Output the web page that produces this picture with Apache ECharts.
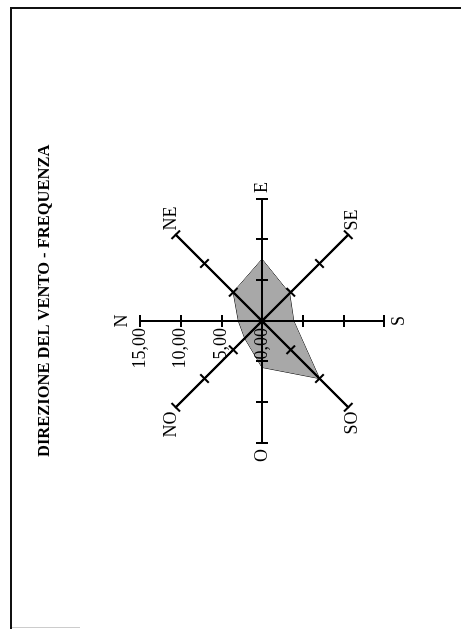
<!DOCTYPE html>
<html>
<head>
<meta charset="utf-8">
<script src="https://cdn.jsdelivr.net/npm/echarts@6/dist/echarts.min.js"></script>
<style>
  html, body { margin: 0; padding: 0; background: #fff; width: 461px; height: 629px; overflow: hidden; }
  #frame {
    position: absolute; left: 10px; top: 7px; width: 460px; height: 630px;
    border-top: 2px solid #111; border-left: 2px solid #111;
  }
  #foot { position: absolute; left: 12px; top: 627px; width: 68px; height: 1px; background: #ccc; }
  /* the scanned page is turned a quarter turn, so draw upright and rotate */
  #main {
    position: absolute; left: 0; top: 629px; width: 629px; height: 461px;
    transform-origin: 0 0; transform: rotate(-90deg);
  }
</style>
</head>
<body>
<div id="frame"></div>
<div id="foot"></div>
<div id="main"></div>
<script>
// wind directions, counter-clockwise from N (ECharts radar order)
const directions = ['N', 'NO', 'O', 'SO', 'S', 'SE', 'E', 'NE'];
const frequency = [2.9, 3.0, 5.7, 10.0, 3.9, 4.8, 7.6, 5.0];
const axisMax = 15;
const axisStep = 5;

const serif = "'Liberation Serif', 'DejaVu Serif', serif";

const indicators = (withLabels) => directions.map((d, i) => {
    const ind = { name: d, min: 0, max: axisMax };
    if (withLabels && i === 0) {
        ind.axisLabel = {
            show: true,
            color: '#000',
            fontFamily: serif,
            fontSize: 18,
            margin: 7,
            formatter: (v) => v.toFixed(2).replace('.', ',')
        };
    }
    return ind;
});

// two radars on top of each other so the ticks cross the spokes
const radarBase = (tickLen, withLabels) => ({
    center: [308, 262],
    radius: 122,
    startAngle: 90,
    shape: 'polygon',
    splitNumber: axisMax / axisStep,
    z: 3,
    indicator: indicators(withLabels),
    axisName: {
        show: withLabels,
        color: '#000',
        fontFamily: serif,
        fontSize: 18
    },
    nameGap: 6,
    axisLine: { lineStyle: { color: '#000', width: 2 } },
    axisTick: { show: true, length: tickLen, lineStyle: { color: '#000', width: 2 } },
    axisLabel: { show: false },
    splitLine: { show: false },
    splitArea: { show: false }
});

const chart = echarts.init(document.getElementById('main'));
chart.setOption({
    animation: false,
    backgroundColor: 'transparent',
    title: {
        text: 'DIREZIONE DEL VENTO - FREQUENZA',
        left: 167,
        top: 31,
        textStyle: { color: '#000', fontFamily: serif, fontWeight: 'bold', fontSize: 16.5 }
    },
    radar: [radarBase(6, true), radarBase(-6, false)],
    series: [{
        type: 'radar',
        radarIndex: 0,
        symbol: 'none',
        lineStyle: { color: '#000', width: 1 },
        areaStyle: { color: '#a8a8a8', opacity: 1 },
        data: [{ value: frequency, name: 'Frequenza' }]
    }]
});
</script>
</body>
</html>
